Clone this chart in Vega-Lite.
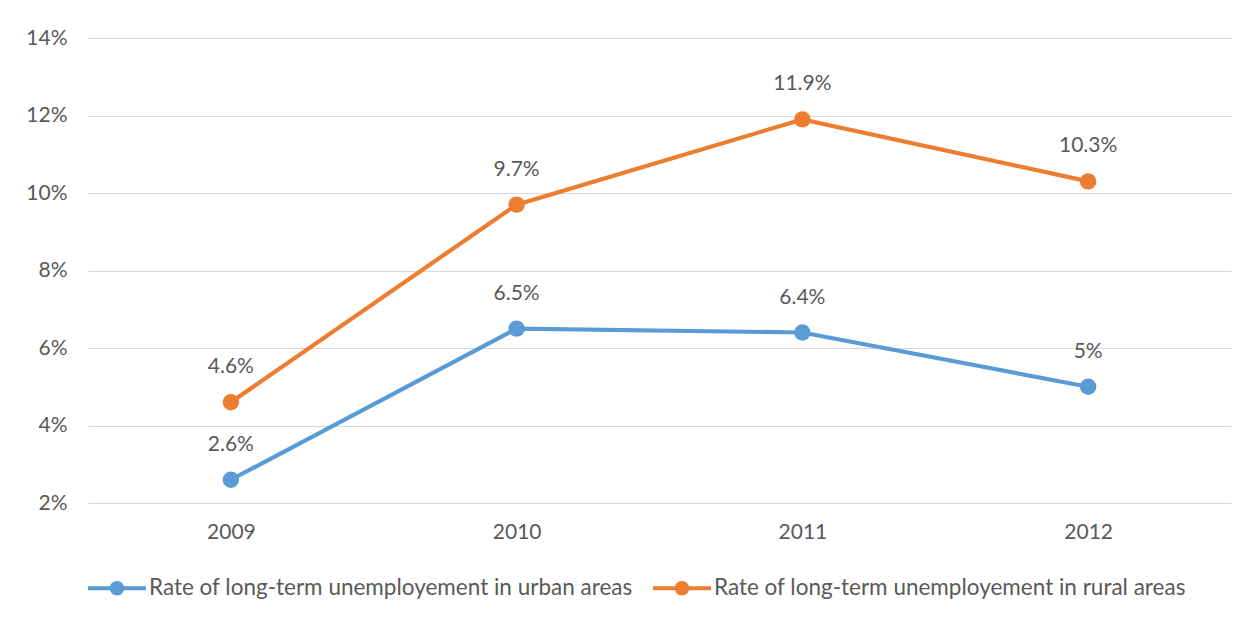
{
  "$schema": "https://vega.github.io/schema/vega-lite/v6.json",
  "width": 1143,
  "height": 465,
  "autosize": {"type": "none"},
  "padding": {"left": 88, "top": 38, "right": 23, "bottom": 118},
  "background": "white",
  "config": {
    "font": "Lato",
    "view": {"stroke": null},
    "axis": {"labelColor": "#595959", "labelFontSize": 21, "labelFont": "Lato", "titleColor": "#595959"},
    "legend": {"labelColor": "#595959", "labelFontSize": 22.5, "labelFont": "Lato", "labelLimit": 0}
  },
  "data": {
    "values": [
      {"year": "2009", "series": "Rate of long-term unemployement in urban areas", "rate": 0.026},
      {"year": "2010", "series": "Rate of long-term unemployement in urban areas", "rate": 0.065},
      {"year": "2011", "series": "Rate of long-term unemployement in urban areas", "rate": 0.064},
      {"year": "2012", "series": "Rate of long-term unemployement in urban areas", "rate": 0.05},
      {"year": "2009", "series": "Rate of long-term unemployement in rural areas", "rate": 0.046},
      {"year": "2010", "series": "Rate of long-term unemployement in rural areas", "rate": 0.097},
      {"year": "2011", "series": "Rate of long-term unemployement in rural areas", "rate": 0.119},
      {"year": "2012", "series": "Rate of long-term unemployement in rural areas", "rate": 0.103}
    ]
  },
  "encoding": {
    "x": {
      "field": "year", "type": "ordinal",
      "scale": {"type": "point", "padding": 0.5},
      "axis": {"title": null, "labelAngle": 0, "domain": false, "ticks": false, "grid": false, "labelPadding": 18}
    },
    "y": {
      "field": "rate", "type": "quantitative",
      "scale": {"domain": [0.02, 0.14], "nice": false, "zero": false},
      "axis": {"title": null, "format": ".0%", "values": [0.02, 0.04, 0.06, 0.08, 0.1, 0.12, 0.14], "domain": false, "ticks": false, "gridColor": "#D9D9D9", "gridWidth": 1.2, "labelPadding": 21}
    },
    "color": {
      "field": "series", "type": "nominal",
      "sort": ["Rate of long-term unemployement in urban areas", "Rate of long-term unemployement in rural areas"],
      "scale": {"range": ["#5B9BD5", "#ED7D31"]},
      "legend": {
        "title": null, "orient": "bottom", "direction": "horizontal", "offset": 17,
        "symbolType": "M-1,-0.07H-0.2V0.07H-1Z M0.2,-0.07H1V0.07H0.2Z M-0.25,0A0.25,0.25 0 1,1 0.25,0A0.25,0.25 0 1,1 -0.25,0Z",
        "symbolSize": 3364, "symbolStrokeWidth": 0, "labelOffset": 3, "columnPadding": 20,
        "encode": {"symbols": {"update": {"fill": {"scale": "color", "field": "value"}, "strokeWidth": {"value": 0}, "opacity": {"value": 1}}}}
      }
    }
  },
  "layer": [
    {
      "mark": {"type": "line", "strokeWidth": 4.2}
    },
    {
      "mark": {"type": "point", "filled": true, "size": 270, "opacity": 1}
    },
    {
      "mark": {"type": "text", "dy": -35, "fontSize": 21, "color": "#595959", "font": "Lato"},
      "encoding": {
        "text": {"field": "rate", "type": "quantitative", "format": ".1~%"},
        "color": {"value": "#595959"}
      }
    }
  ]
}
